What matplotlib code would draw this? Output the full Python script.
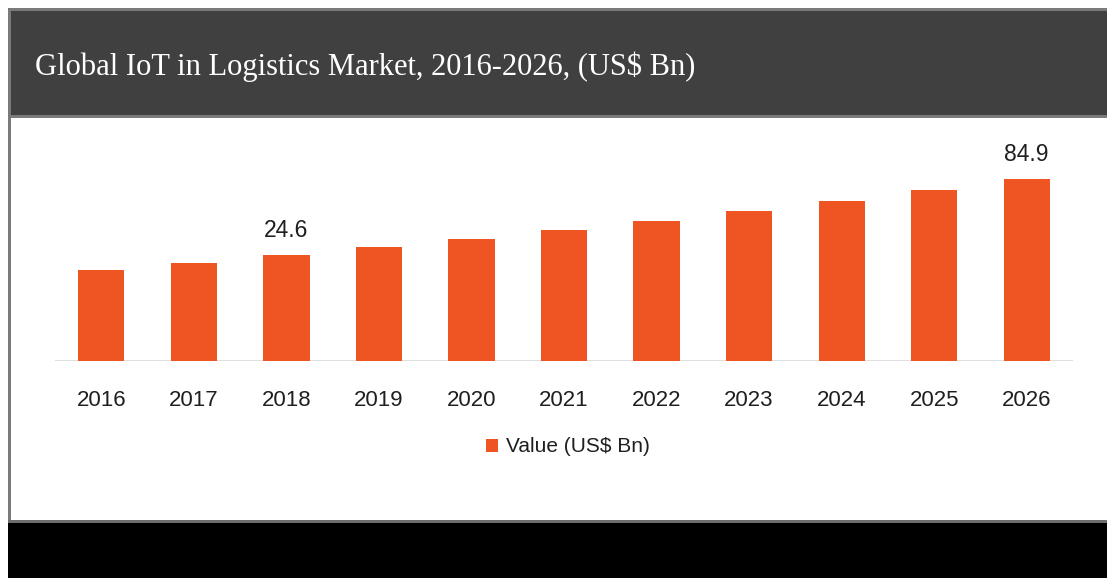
import numpy as np
import matplotlib
matplotlib.use('Agg')
import matplotlib.pyplot as plt
from matplotlib.patches import Rectangle

# Market size, US$ Bn
years = ['2016', '2017', '2018', '2019', '2020', '2021', '2022', '2023', '2024', '2025', '2026']
values = [12.7, 18.5, 24.6, 30.7, 37.4, 44.5, 51.7, 59.6, 67.6, 76.1, 84.9]
labelled_years = ['2018', '2026']

# value scale starts below zero, bars grow from the floor
axis_floor = -59.8
axis_top = 116.2

W, H = 1107, 578
bar_color = '#EF5523'
text_font = ['Liberation Sans', 'DejaVu Sans']

fig = plt.figure(figsize=(W / 100, H / 100), dpi=100, facecolor='white')


def px_rect(x0, y0, x1, y1, color):
    # rectangle given in pixel coords, y measured from the top
    fig.patches.append(Rectangle((x0 / W, 1 - y1 / H), (x1 - x0) / W, (y1 - y0) / H,
                                 transform=fig.transFigure, facecolor=color,
                                 edgecolor='none', zorder=0))


# frame: dark header, grey rules, black strip at the bottom
px_rect(8, 8, W, 11, '#7a7a7a')
px_rect(11, 11, W, 115, '#404040')
px_rect(8, 115, W, 118, '#7a7a7a')
px_rect(8, 8, 11, 523, '#7a7a7a')
px_rect(8, 520, W, 523, '#6e6e6e')
px_rect(8, 523, W, H, '#000000')

fig.text(35 / W, 1 - 75 / H, 'Global IoT in Logistics Market, 2016-2026, (US$ Bn)',
         family='Liberation Serif', fontsize=22, color='white', va='baseline', ha='left')

ax = fig.add_axes([55 / W, 1 - 361 / H, (1073 - 55) / W, (361 - 140) / H])
ax.set_facecolor('none')

x = np.arange(len(years))
heights = np.array(values) - axis_floor
bars = ax.bar(x, heights, bottom=axis_floor, width=0.5, color=bar_color,
              label='Value (US$ Bn)', zorder=2)

for i, (yr, v) in enumerate(zip(years, values)):
    if yr in labelled_years:
        ax.annotate(f'{v:.1f}', (x[i], v), xytext=(0, 13), textcoords='offset points',
                    ha='center', va='baseline', fontsize=16.5, color='#1f1f1f',
                    family=text_font)

ax.axhline(axis_floor, color='#d9d9d9', lw=1.2, zorder=1)
ax.set_xlim(-0.5, len(years) - 0.5)
ax.set_ylim(axis_floor, axis_top)
ax.set_xticks(x, years)
ax.set_yticks([])
ax.tick_params(axis='x', length=0, pad=21, labelsize=16, labelcolor='#1f1f1f')
for lab in ax.get_xticklabels():
    lab.set_family(text_font)
for s in ax.spines.values():
    s.set_visible(False)

fig.legend(handles=[bars], labels=['Value (US$ Bn)'], loc='center',
           bbox_to_anchor=(568 / W, 1 - 447 / H), frameon=False,
           handlelength=0.6, handleheight=0.6, handletextpad=0.4,
           prop={'family': text_font, 'size': 15}, labelcolor='#1f1f1f')

fig.savefig('out.png', dpi=100, facecolor='white')
